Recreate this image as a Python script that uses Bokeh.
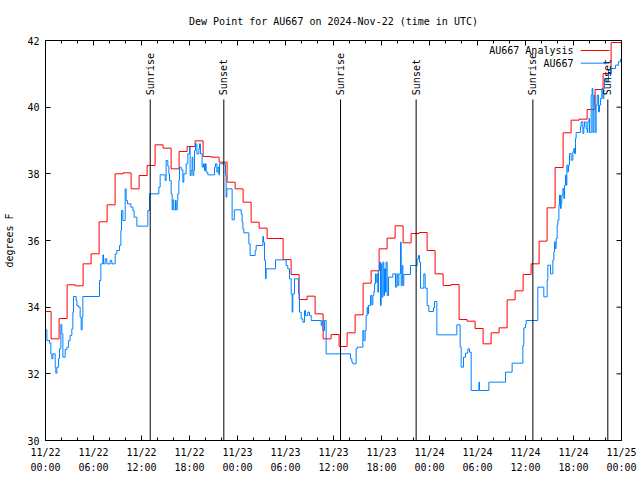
import math
from bokeh.plotting import figure
from bokeh.models import Range1d, FixedTicker
from bokeh.core.properties import value
from bokeh.embed import file_html
from bokeh.resources import INLINE

FONT = "DejaVu Sans Mono"

title_text = "Dew Point for AU667 on 2024-Nov-22 (time in UTC)"
y_label = "degrees F"

# x axis in hours since 11/22 00:00 UTC
x_tick_hours = [0, 6, 12, 18, 24, 30, 36, 42, 48, 54, 60, 66, 72]
x_tick_labels = ["11/22\n00:00", "11/22\n06:00", "11/22\n12:00", "11/22\n18:00",
                 "11/23\n00:00", "11/23\n06:00", "11/23\n12:00", "11/23\n18:00",
                 "11/24\n00:00", "11/24\n06:00", "11/24\n12:00", "11/24\n18:00",
                 "11/25\n00:00"]
x_minor_hours = list(range(0, 73, 2))
y_ticks = [30, 32, 34, 36, 38, 40, 42]

# Sunrise / sunset times (hours)
sun_t = [13.09, 22.29, 36.88, 46.33, 60.92, 70.29]
sun_lbl = ["Sunrise", "Sunset", "Sunrise", "Sunset", "Sunrise", "Sunset"]

# AU667 Analysis (hourly)
analysis_v = [33.87,
              33.05, 33.66, 34.67, 34.64, 35.30, 35.60, 36.56, 37.07, 38.00, 38.03,
              37.55, 37.95, 38.25, 38.87, 38.77, 38.15, 38.67, 38.82, 38.99, 38.52,
              38.50, 38.35, 37.75, 37.55, 37.15, 36.55, 36.37, 36.06, 36.06, 35.43,
              34.98, 34.23, 34.33, 33.80, 33.05, 33.18, 32.82, 33.23, 33.77, 34.72,
              35.09, 35.75, 36.07, 36.44, 35.93, 36.21, 36.24, 35.70, 35.00, 34.65,
              34.68, 33.63, 33.58, 33.36, 32.90, 33.23, 33.38, 34.22, 34.49, 34.98,
              35.30, 35.98, 36.98, 38.19, 39.23, 39.61, 39.64, 39.93, 40.53, 41.01,
              41.94, 41.94, 41.94]
analysis_t = [0.0] + [k + 0.7 for k in range(72)] + [72.0]

# AU667 observations
obs_t = [0.00, 0.17, 0.50, 0.67, 0.79, 0.92, 1.21, 1.29, 1.42, 1.63, 1.75, 1.92, 2.04, 2.17,
         2.46, 2.67, 2.88, 3.08, 3.29, 3.42, 3.50, 3.83, 3.92, 4.13, 4.33, 4.46, 4.58, 4.67,
         6.75, 6.92, 7.17, 7.25, 7.46, 7.67, 8.08, 8.29, 8.71, 8.92, 9.25, 9.42, 9.50, 9.67,
         9.96, 10.08, 10.25, 10.67, 10.92, 11.08, 11.42, 12.79, 13.00, 14.17, 14.33, 14.96,
         15.08, 15.29, 15.42, 15.50, 15.71, 15.83, 15.92, 16.04, 16.25, 16.33, 16.46, 16.54,
         16.67, 16.75, 16.96, 17.17, 17.29, 17.58, 17.79, 18.00, 18.08, 18.21, 18.33, 18.42,
         18.54, 18.63, 18.75, 18.92, 19.17, 19.25, 19.38, 19.58, 19.75, 19.88, 20.00, 20.08,
         20.29, 21.13, 21.25, 21.42, 21.54, 21.67, 21.75, 22.50, 22.58, 22.67, 23.33, 23.60,
         24.46, 24.58, 24.67, 24.79, 25.42, 25.58, 26.21, 26.33, 27.17, 27.25, 27.38, 27.50,
         27.58, 28.75, 30.08, 30.29, 30.50, 30.71, 30.83, 30.92, 31.13, 31.63, 31.75, 31.96,
         32.17, 32.38, 32.50, 32.79, 33.00, 33.21, 34.46, 34.58, 34.67, 34.88, 35.08, 38.13,
         38.29, 38.42, 38.83, 38.96, 39.67, 39.79, 39.96, 40.08, 40.21, 40.29, 40.38, 40.63,
         40.79, 40.92, 41.04, 41.13, 41.25, 41.33, 41.46, 41.54, 41.63, 41.75, 41.88, 41.96,
         42.04, 42.17, 42.29, 42.38, 42.50, 42.58, 42.71, 42.88, 43.42, 43.75, 43.92, 44.04,
         44.17, 44.38, 44.46, 44.58, 44.67, 44.79, 45.63, 46.46, 46.63, 46.75, 46.88, 47.29,
         47.46, 47.71, 47.92, 48.50, 48.63, 48.92, 51.42, 51.83, 51.96, 52.25, 52.50, 52.79,
         53.00, 53.21, 54.17, 54.25, 55.42, 57.50, 58.33, 59.67, 59.79, 60.00, 60.08, 61.54,
         62.29, 62.71, 62.79, 63.13, 63.42, 63.54, 63.63, 63.71, 63.83, 63.96, 64.04, 64.17,
         64.25, 64.38, 64.46, 64.54, 64.67, 64.79, 64.88, 65.00, 65.08, 65.17, 65.29, 65.38,
         65.50, 65.71, 65.92, 66.04, 66.13, 66.25, 66.33, 66.88, 66.96, 67.17, 67.29, 67.38,
         67.58, 67.71, 67.79, 67.92, 68.00, 68.21, 68.33, 68.42, 68.54, 68.63, 68.71, 68.83,
         68.96, 69.13, 69.25, 69.38, 69.54, 69.67, 69.79, 69.88, 70.21, 70.38, 70.63, 70.71,
         71.25, 71.63, 71.88, 72.00]
obs_v = [33.32, 33.00, 32.92, 32.60, 32.45, 32.60, 32.20, 32.02, 32.20, 32.46, 32.75, 33.48, 33.20, 32.50,
         32.73, 32.80, 33.00, 33.15, 33.35, 33.85, 34.32, 34.20, 34.05, 34.00, 33.70, 33.32, 33.70, 34.32,
         34.80, 35.30, 35.57, 35.30, 35.45, 35.30, 35.40, 35.30, 35.60, 35.70, 35.85, 36.30, 36.90, 36.60,
         37.55, 37.20, 37.10, 37.00, 36.90, 36.70, 36.43, 36.90, 37.40, 37.60, 37.97, 37.80,
         38.40, 38.23, 38.00, 37.80, 37.40, 36.92, 37.22, 36.92, 37.20, 36.92, 37.20, 37.40,
         37.80, 38.20, 38.12, 37.75, 38.00, 38.30, 38.60, 38.80, 37.95, 38.10, 38.50, 37.95,
         38.10, 38.70, 38.90, 38.60, 38.75, 38.90, 38.60, 38.20, 38.30, 38.10, 38.30, 38.05,
         37.97, 38.20, 38.30, 38.05, 38.20, 37.97, 38.30, 37.97, 37.30, 37.55, 36.62, 36.92,
         36.80, 36.55, 36.35, 36.23, 35.90, 35.55, 35.70, 35.85, 36.12, 35.95, 35.40, 34.85,
         35.15, 35.42, 35.25, 35.15, 34.85, 34.40, 33.85, 34.40, 34.85, 34.40, 33.85, 33.65,
         33.55, 33.90, 33.75, 33.85, 33.75, 33.60, 33.45, 33.60, 33.30, 33.60, 32.60, 32.45,
         32.35, 32.30, 32.75, 32.80, 33.30, 33.00, 33.30, 33.75, 34.00, 33.80, 34.05, 34.35,
         34.07, 34.35, 34.47, 34.70, 35.00, 34.75, 35.00, 34.45, 35.10, 35.35, 34.05, 35.30,
         34.30, 35.35, 34.35, 35.15, 34.45, 35.35, 34.35, 34.90, 35.00, 34.60, 35.00, 34.65,
         35.00, 35.95, 34.65, 35.25, 34.65, 34.98, 35.25, 35.45, 35.55, 35.35, 34.57, 35.00,
         34.57, 34.05, 33.87, 33.98, 34.17, 33.17, 33.47, 32.80, 32.20, 32.50, 32.62, 32.75,
         32.65, 31.50, 31.75, 31.50, 31.75, 32.05, 32.32, 32.85, 33.38, 33.48, 33.60, 34.60,
         34.31, 34.81, 35.26, 35.00, 35.41, 35.66, 35.96, 35.76, 36.06, 36.46, 36.61, 37.06,
         37.36, 36.96, 37.11, 37.36, 37.56, 37.26, 37.66, 37.96, 37.66, 38.26, 38.06, 38.26,
         38.61, 38.41, 38.66, 38.76, 38.61, 39.06, 39.24, 39.41, 39.56, 39.21, 39.41, 39.56,
         39.36, 39.24, 39.56, 39.66, 39.24, 40.36, 40.56, 39.24, 40.36, 40.06, 39.24, 40.06,
         40.36, 39.86, 40.06, 40.26, 40.56, 40.26, 40.56, 40.86, 40.76, 41.11, 41.01, 41.16,
         41.26, 41.36, 41.44, 41.44]

series_names = ["AU667 Analysis", "AU667"]
series_colors = ["#ff0000", "#0080ff"]

X0, X1, Y0, Y1 = 0, 72, 30, 42
FRAME_W, FRAME_H = 576, 400

p = figure(width=640, height=480, x_range=Range1d(X0, X1), y_range=Range1d(Y0, Y1),
           output_backend="svg", toolbar_location=None,
           min_border_left=45, min_border_right=19, min_border_top=40, min_border_bottom=40)
p.grid.visible = False
p.outline_line_color = "black"
p.outline_line_width = 1
p.background_fill_color = "white"
p.border_fill_color = "white"

p.title.text = title_text
p.title.align = "center"
p.title.vertical_align = "middle"
p.title.text_font = FONT
p.title.text_font_size = "10px"
p.title.text_font_style = "normal"
p.title.text_color = "black"
p.title.standoff = 26

xt = FixedTicker(ticks=x_tick_hours, minor_ticks=x_minor_hours)
yt = FixedTicker(ticks=y_ticks, minor_ticks=[])

def style_axis(ax):
    ax.axis_line_color = "black"
    ax.major_tick_line_color = "black"
    ax.minor_tick_line_color = "black"
    ax.major_tick_out = 0
    ax.minor_tick_out = 0
    ax.major_tick_in = 5
    ax.minor_tick_in = 3
    ax.major_label_text_font = FONT
    ax.major_label_text_font_size = "10px"
    ax.major_label_text_color = "black"

xb = p.xaxis[0]
xb.ticker = xt
style_axis(xb)
xb.major_label_overrides = {h: s for h, s in zip(x_tick_hours, x_tick_labels)}
xb.major_label_standoff = 6
xb.major_label_text_line_height = 1.4

yl = p.yaxis[0]
yl.ticker = yt
style_axis(yl)
yl.minor_tick_in = 0
yl.major_label_overrides = {v: str(v) for v in y_ticks}
yl.major_label_standoff = 6
yl.axis_label = y_label
yl.axis_label_text_font = FONT
yl.axis_label_text_font_size = "10px"
yl.axis_label_text_font_style = "normal"
yl.axis_label_text_color = "black"
yl.axis_label_standoff = 9

# mirrored ticks on top and right edges (tick lengths in pixels converted to data units)
px_y = (Y1 - Y0) / FRAME_H
px_x = (X1 - X0) / FRAME_W
top_len = [5 * px_y if h in x_tick_hours else 3 * px_y for h in x_minor_hours]
p.segment(x0=x_minor_hours, y0=[Y1] * len(x_minor_hours), x1=x_minor_hours,
          y1=[Y1 - L for L in top_len], line_color="black", line_width=1)
p.segment(x0=[X1] * len(y_ticks), y0=y_ticks, x1=[X1 - 5 * px_x] * len(y_ticks), y1=y_ticks,
          line_color="black", line_width=1)

# data
p.step(analysis_t, analysis_v, mode="after", line_color=series_colors[0], line_width=1)
p.step(obs_t, obs_v, mode="after", line_color=series_colors[1], line_width=1)

# sunrise/sunset markers
p.segment(x0=sun_t, y0=[Y0] * len(sun_t), x1=sun_t, y1=[40.23] * len(sun_t),
          line_color="black", line_width=1)
p.text(x=sun_t, y=[40.36] * len(sun_t), text=sun_lbl, angle=math.pi / 2,
       text_align="left", text_baseline="middle", text_font=value(FONT),
       text_font_size="10px", text_color="black")

# key (gnuplot style: text then sample line)
key_y = [41.7, 41.32]
p.text(x=[66.0, 66.0], y=key_y, text=series_names, text_align="right",
       text_baseline="middle", text_font=value(FONT), text_font_size="10px",
       text_color="black")
p.segment(x0=[66.9, 66.9], y0=key_y, x1=[70.5, 70.5], y1=key_y,
          line_color=series_colors, line_width=1)

open("out.html", "w").write(file_html(p, INLINE))
